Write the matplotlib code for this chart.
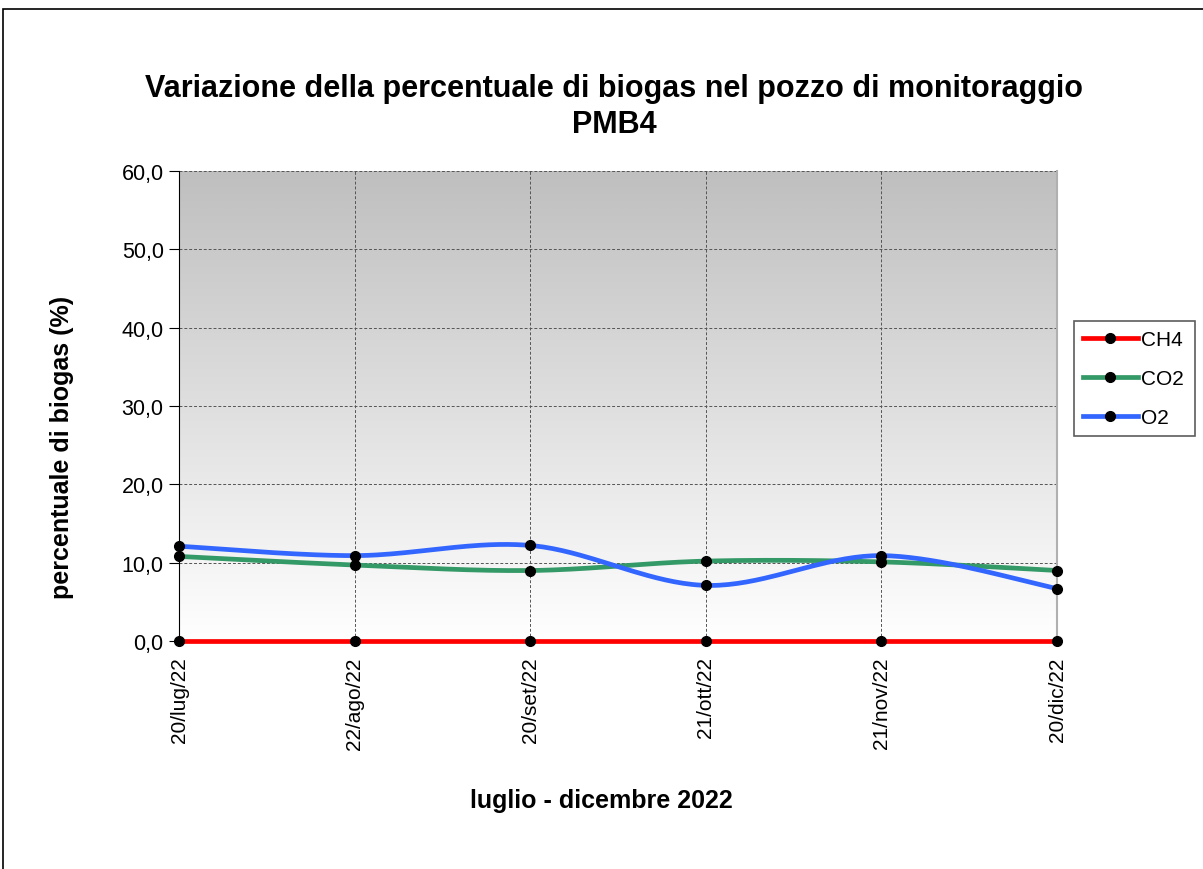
import numpy as np
import matplotlib
matplotlib.use("Agg")
import matplotlib.pyplot as plt
from matplotlib.patches import Rectangle
from matplotlib.lines import Line2D

plt.rcParams['font.family'] = ['Liberation Sans', 'DejaVu Sans']

dates = ["20/lug/22", "22/ago/22", "20/set/22", "21/ott/22", "21/nov/22", "20/dic/22"]
ch4 = [0.0, 0.0, 0.0, 0.0, 0.0, 0.0]
co2 = [10.8, 9.7, 9.0, 10.2, 10.1, 9.0]
o2 = [12.1, 10.9, 12.2, 7.1, 10.9, 6.7]
series_names = ["CH4", "CO2", "O2"]
series_colors = ["#ff0000", "#339966", "#3366ff"]
yticks = [0, 10, 20, 30, 40, 50, 60]


def smooth(x, y, n=40):
    # Catmull-Rom style smoothing (like Excel's smoothed line) for rendering only
    x = np.asarray(x, float); y = np.asarray(y, float)
    px = np.concatenate([[x[0]], x, [x[-1]]])
    py = np.concatenate([[y[0]], y, [y[-1]]])
    xs, ys = [], []
    for i in range(1, len(px) - 2):
        p0, p1, p2, p3 = (np.array([px[j], py[j]]) for j in (i - 1, i, i + 1, i + 2))
        c1 = p1 + (p2 - p0) / 6.0
        c2 = p2 - (p3 - p1) / 6.0
        t = np.linspace(0, 1, n)[:, None]
        b = ((1 - t) ** 3) * p1 + 3 * ((1 - t) ** 2) * t * c1 + 3 * (1 - t) * t ** 2 * c2 + t ** 3 * p2
        xs.append(b[:, 0]); ys.append(b[:, 1])
    return np.concatenate(xs), np.concatenate(ys)


W, H = 1203, 870
fig = plt.figure(figsize=(W / 100, H / 100), dpi=100)
fig.patch.set_facecolor("white")

# outer chart border (top and left visible)
fig.add_artist(Rectangle((3 / W, -0.1), 1.2, (H - 10) / H + 0.1, transform=fig.transFigure,
                         fill=False, edgecolor="black", linewidth=1.2))

L, R, T, B = 179, 1057, 172, 642
ax = fig.add_axes([L / W, 1 - B / H, (R - L) / W, (B - T) / H])

x = np.arange(len(dates))
xmax = len(dates) - 1

# gradient background: white at bottom, grey at top
grad = np.linspace(1, 0, 256)[:, None]
cmap = matplotlib.colors.LinearSegmentedColormap.from_list("g", ["#bfbfbf", "#ffffff"])
ax.imshow(grad, aspect="auto", cmap=cmap, vmin=0, vmax=1, extent=[0, xmax, 0, 60], zorder=0,
          origin="lower", interpolation="bilinear")
ax.set_xlim(0, xmax)
ax.set_ylim(0, 60)

ax.grid(True, color="#555555", linestyle=(0, (3, 2)), linewidth=0.7, zorder=1)

handles = []
for name, vals, col in zip(series_names, [ch4, co2, o2], series_colors):
    sx, sy = smooth(x, vals)
    ax.plot(sx, sy, color=col, linewidth=3.4, zorder=3, solid_capstyle="round", clip_on=False)
    ax.plot(x, vals, linestyle="none", marker="o", markersize=7, color="black", zorder=4,
            clip_on=False)
    handles.append(Line2D([0], [0], color=col, linewidth=3.4, marker="o", markersize=7,
                          markerfacecolor="black", markeredgecolor="black"))

ax.set_yticks(yticks)
ax.set_yticklabels([f"{v:.1f}".replace(".", ",") for v in yticks], fontsize=15.5)
ax.set_xticks(x)
ax.set_xticklabels(dates, rotation=90, fontsize=15)
ax.tick_params(axis="y", length=7, color="black", pad=4)
ax.tick_params(axis="x", length=0, pad=11)

ax.spines["left"].set_color("black")
ax.spines["bottom"].set_color("black")
ax.spines["top"].set_visible(False)
ax.spines["right"].set_color("#b0b0b0")
ax.spines["right"].set_linewidth(1.5)

fig.text(614 / W, 1 - 107 / H, "Variazione della percentuale di biogas nel pozzo di monitoraggio\nPMB4",
         ha="center", va="center", fontsize=22, fontweight="bold", linespacing=1.3)
fig.text(62 / W, 1 - 447 / H, "percentuale di biogas (%)", rotation=90, ha="center", va="center",
         fontsize=18, fontweight="bold")
fig.text(601 / W, 1 - 801 / H, "luglio - dicembre 2022", ha="center", va="center",
         fontsize=18, fontweight="bold")

lx0, lx1, ly0, ly1 = 1074, 1195, 322, 437
leg = fig.legend(handles, series_names, loc="upper left", mode="expand",
                 bbox_to_anchor=(lx0 / W, 1 - ly1 / H, (lx1 - lx0) / W, (ly1 - ly0) / H),
                 fontsize=15, frameon=True,
                 fancybox=False, edgecolor="#333333", handlelength=2.6, handletextpad=0.15,
                 borderpad=0.45, labelspacing=0.95, borderaxespad=0)
leg.get_frame().set_linewidth(1.2)

fig.savefig("out.png", dpi=100)
